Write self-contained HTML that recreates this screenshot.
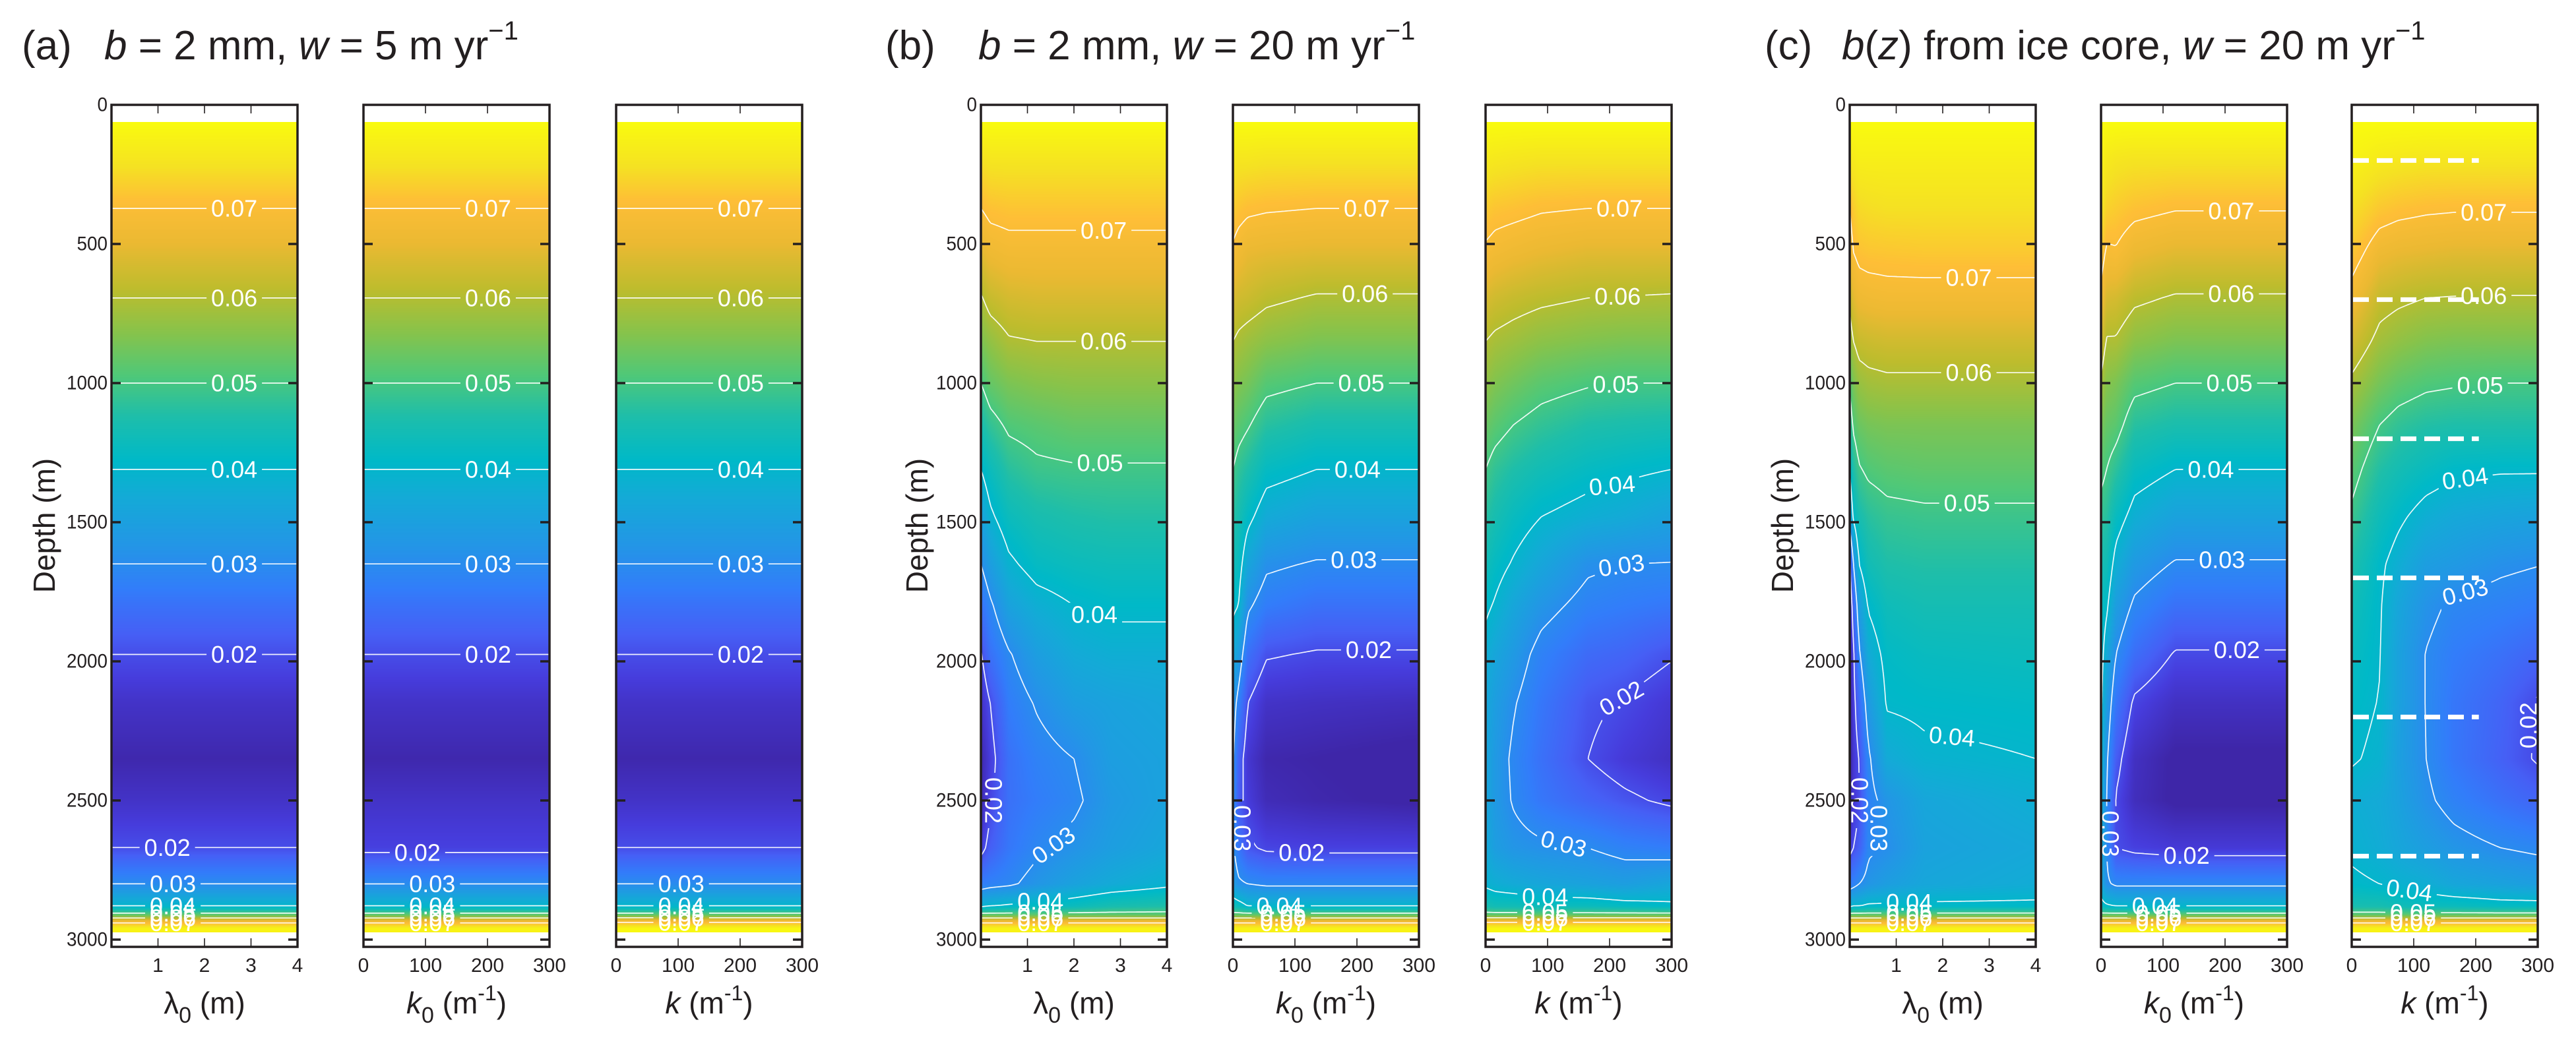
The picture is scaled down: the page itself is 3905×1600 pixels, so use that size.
<!DOCTYPE html>
<html><head><meta charset="utf-8">
<style>
html,body{margin:0;padding:0;background:#fff;}
body{width:3905px;height:1600px;position:relative;overflow:hidden;font-family:"Liberation Sans",Arial,sans-serif;}
canvas{position:absolute;}
#ov{position:absolute;left:0;top:0;}
</style></head>
<body>
<div id="heatmaps"></div>
<svg id="ov" width="3905" height="1600" xmlns="http://www.w3.org/2000/svg" font-family="Liberation Sans, Arial, sans-serif" fill="#231f20">
  <defs id="defs"></defs>
  <g>
    <text x="33" y="90" font-size="62">(a)</text>
    <text x="158" y="90" font-size="62"><tspan font-style="italic">b</tspan> = 2 mm, <tspan font-style="italic">w</tspan> = 5 m yr<tspan dy="-30" font-size="40">−1</tspan></text>
  </g>
  <g>
    <text x="1342" y="90" font-size="62">(b)</text>
    <text x="1483" y="90" font-size="62"><tspan font-style="italic">b</tspan> = 2 mm, <tspan font-style="italic">w</tspan> = 20 m yr<tspan dy="-30" font-size="40">−1</tspan></text>
  </g>
  <g>
    <text x="2675" y="90" font-size="62">(c)</text>
    <text x="2792" y="90" font-size="62"><tspan font-style="italic">b</tspan>(<tspan font-style="italic">z</tspan>) from ice core, <tspan font-style="italic">w</tspan> = 20 m yr<tspan dy="-30" font-size="40">−1</tspan></text>
  </g>
  <text transform="translate(67,797) rotate(-90)" text-anchor="middle" dominant-baseline="central" font-size="46">Depth (m)</text>
  <text transform="translate(1390,797) rotate(-90)" text-anchor="middle" dominant-baseline="central" font-size="46">Depth (m)</text>
  <text transform="translate(2702,797) rotate(-90)" text-anchor="middle" dominant-baseline="central" font-size="46">Depth (m)</text>
  <g id="dyn"></g>
</svg>
<script>
// ---------------- data ----------------
const ROWS = [62,200,372,530,694,850,1000,1150,1310,1480,1650,1800,1975,2150,2350,2500,2670,2800,2880,2910,2930,2960];
const Y_TICKS = [0,500,1000,1500,2000,2500,3000];
const LAMBDA_TICKS = [1,2,3,4];
const K_TICKS = [0,100,200,300];
const CMAP_V = [0.013,0.018,0.022,0.027,0.032,0.037,0.041,0.046,0.051,0.056,0.061,0.066,0.071,0.076,0.082];
const CMAP_R = [62,70,70,50,35,20,0,30,80,135,190,235,254,245,249];
const CMAP_G = [38,60,95,125,150,170,185,190,200,195,188,185,190,225,251];
const CMAP_B = [168,220,245,250,230,215,200,170,120,75,45,50,55,35,14];

const A1_PROFILE = [0.082,0.077,0.070,0.065,0.060,0.055,0.050,0.045,0.040,0.035,0.030,0.025,0.020,0.016,0.0135,0.016,0.020,0.030,0.040,0.052,0.065,0.080];
const A2_PROFILE = [0.082,0.077,0.070,0.065,0.060,0.055,0.050,0.045,0.040,0.035,0.030,0.025,0.020,0.016,0.0135,0.016,0.0185,0.030,0.040,0.052,0.065,0.080];
const A3_PROFILE = [0.082,0.077,0.070,0.065,0.060,0.055,0.050,0.045,0.040,0.035,0.030,0.025,0.020,0.016,0.0135,0.016,0.020,0.030,0.040,0.052,0.066,0.081];
const A_COLS = [0,1];

const B1_COLS = [0,0.05,0.15,0.3,0.5,0.7,1];
const B1_VALS = [
[.082,.082,.082,.082,.082,.082,.082],
[.076,.077,.077,.077,.077,.077,.077],
[.070,.0715,.072,.072,.072,.072,.072],
[.065,.067,.068,.068,.068,.068,.068],
[.0595,.062,.0635,.064,.064,.064,.064],
[.055,.057,.0595,.060,.060,.060,.060],
[.050,.053,.055,.056,.0565,.0565,.0565],
[.045,.048,.051,.052,.053,.053,.053],
[.040,.043,.047,.049,.0495,.0495,.0495],
[.035,.039,.043,.045,.046,.0465,.0465],
[.030,.034,.039,.042,.043,.0435,.0435],
[.025,.029,.035,.038,.040,.041,.041],
[.0195,.025,.0295,.034,.037,.038,.038],
[.016,.020,.027,.0305,.034,.035,.036],
[.0135,.018,.025,.028,.030,.034,.035],
[.014,.019,.025,.027,.029,.033,.035],
[.018,.022,.026,.029,.0315,.034,.036],
[.027,.028,.029,.032,.035,.037,.039],
[.039,.040,.041,.042,.043,.045,.046],
[.052,.052,.052,.052,.052,.052,.052],
[.065,.065,.065,.065,.065,.065,.065],
[.080,.080,.080,.080,.080,.080,.080]];

const B2_COLS = [0,0.03,0.08,0.18,0.45,1];
const B2_VALS = [
[.082,.082,.082,.082,.082,.082],
[.078,.077,.077,.0765,.0765,.0765],
[.073,.072,.071,.0705,.070,.070],
[.069,.0675,.066,.0655,.065,.065],
[.064,.063,.0625,.061,.0595,.0595],
[.060,.059,.058,.0565,.055,.055],
[.057,.0555,.0545,.0515,.050,.050],
[.0535,.052,.0505,.047,.045,.045],
[.050,.048,.046,.042,.040,.040],
[.047,.045,.0415,.037,.035,.035],
[.044,.0425,.036,.031,.0295,.0295],
[.041,.040,.031,.027,.025,.025],
[.037,.034,.025,.0205,.0195,.0195],
[.033,.028,.020,.016,.0155,.015],
[.031,.023,.017,.0135,.013,.012],
[.031,.022,.018,.0145,.0135,.0125],
[.031,.026,.021,.019,.0185,.0185],
[.034,.031,.030,.029,.029,.029],
[.044,.043,.040,.040,.040,.040],
[.052,.052,.052,.052,.052,.052],
[.065,.065,.065,.065,.065,.065],
[.080,.080,.080,.080,.080,.080]];

const B3_COLS = [0,0.05,0.15,0.3,0.55,0.75,1];
const B3_VALS = [
[.082,.082,.082,.082,.082,.082,.082],
[.078,.0775,.077,.0765,.0765,.0765,.0765],
[.073,.072,.0715,.0705,.070,.070,.070],
[.069,.068,.067,.066,.065,.065,.065],
[.064,.063,.062,.061,.060,.0598,.0595],
[.060,.059,.058,.0565,.0555,.055,.055],
[.057,.0555,.054,.052,.0505,.050,.050],
[.0535,.052,.050,.048,.046,.0455,.045],
[.050,.048,.046,.044,.042,.041,.040],
[.047,.045,.0425,.040,.038,.037,.035],
[.044,.042,.0395,.036,.031,.030,.0298],
[.041,.0395,.036,.032,.028,.027,.026],
[.038,.036,.033,.028,.024,.023,.0205],
[.0365,.034,.0305,.026,.021,.0195,.017],
[.036,.033,.029,.025,.020,.0175,.0155],
[.036,.033,.0295,.026,.023,.021,.019],
[.037,.034,.032,.031,.030,.028,.027],
[.039,.038,.037,.036,.035,.034,.036],
[.045,.044,.044,.043,.043,.042,.041],
[.052,.052,.052,.052,.052,.052,.052],
[.066,.066,.066,.066,.066,.066,.066],
[.081,.081,.081,.081,.081,.081,.081]];

const C1_COLS = [0,0.02,0.05,0.1,0.2,0.4,1];
const C1_VALS = [
[.082,.082,.082,.082,.082,.082,.082],
[.077,.078,.079,.079,.079,.079,.079],
[.070,.073,.075,.0755,.076,.076,.076],
[.067,.070,.0715,.072,.0722,.0725,.0725],
[.0615,.065,.067,.0675,.068,.068,.068],
[.057,.060,.062,.0625,.063,.063,.063],
[.051,.055,.0575,.0585,.059,.059,.059],
[.0465,.051,.0535,.0545,.055,.055,.055],
[.0405,.046,.0495,.051,.052,.0525,.0525],
[.034,.041,.045,.047,.0485,.049,.049],
[.0185,.030,.040,.044,.046,.0465,.0465],
[.015,.023,.034,.0405,.0435,.0445,.0445],
[.013,.019,.029,.037,.0415,.0425,.043],
[.012,.018,.024,.033,.0405,.041,.0415],
[.012,.017,.020,.029,.037,.039,.040],
[.013,.017,.0195,.028,.032,.036,.038],
[.018,.020,.022,.029,.0305,.035,.0365],
[.027,.028,.030,.032,.034,.036,.0375],
[.039,.040,.040,.041,.041,.041,.041],
[.052,.052,.052,.052,.052,.052,.052],
[.065,.065,.065,.065,.065,.065,.065],
[.080,.080,.080,.080,.080,.080,.080]];

const C2_COLS = [0,0.03,0.08,0.18,0.4,1];
const C2_VALS = [
[.082,.082,.082,.082,.082,.082],
[.080,.078,.077,.0765,.0765,.0765],
[.077,.074,.073,.0715,.0703,.0703],
[.073,.069,.0695,.0665,.065,.065],
[.068,.064,.0635,.061,.0595,.0595],
[.0635,.0595,.0595,.0565,.055,.055],
[.059,.056,.055,.0515,.050,.050],
[.055,.053,.052,.047,.0455,.0455],
[.0515,.050,.0475,.0425,.040,.040],
[.048,.047,.0425,.038,.035,.035],
[.045,.044,.038,.033,.0295,.0295],
[.043,.041,.034,.029,.025,.025],
[.042,.037,.030,.0245,.0195,.0195],
[.041,.034,.026,.019,.0155,.0155],
[.040,.031,.022,.0155,.0125,.0125],
[.039,.030,.0195,.015,.0125,.0125],
[.038,.030,.020,.0185,.0175,.0175],
[.037,.031,.029,.029,.029,.029],
[.042,.041,.040,.040,.040,.040],
[.052,.052,.052,.052,.052,.052],
[.065,.065,.065,.065,.065,.065],
[.080,.080,.080,.080,.080,.080]];

const C3_COLS = [0,0.15,0.25,0.4,0.55,0.8,1];
const C3_VALS = [
[.082,.082,.082,.082,.082,.082,.082],
[.080,.078,.0775,.077,.077,.077,.077],
[.076,.0725,.0715,.0708,.0705,.0705,.0705],
[.0725,.067,.066,.0655,.065,.065,.065],
[.068,.062,.061,.060,.0598,.0597,.0597],
[.0635,.0585,.057,.0555,.055,.055,.055],
[.059,.0545,.0525,.051,.0505,.050,.050],
[.055,.050,.048,.0465,.046,.046,.046],
[.052,.0465,.0445,.0425,.041,.0405,.0405],
[.049,.0435,.041,.038,.0365,.0355,.035],
[.046,.041,.038,.034,.033,.031,.0302],
[.044,.0405,.036,.0315,.029,.028,.027],
[.0425,.0402,.035,.0298,.027,.025,.023],
[.0415,.0398,.035,.0298,.026,.023,.0195],
[.0405,.039,.0345,.030,.026,.0225,.0195],
[.038,.037,.035,.031,.028,.025,.023],
[.039,.0375,.036,.034,.032,.030,.029],
[.041,.040,.039,.038,.036,.035,.034],
[.045,.045,.044,.043,.043,.042,.042],
[.052,.052,.052,.052,.052,.052,.052],
[.065,.065,.065,.065,.065,.065,.065],
[.080,.080,.080,.080,.080,.080,.080]];
const C3_DASH_DEPTHS = [200,700,1200,1700,2200,2700];
const C3_DASH_KMAX = 205;

const CONTOUR_LEVELS = [0.02,0.03,0.04,0.05,0.06,0.07];

// label specs: [text, xfrac, depth hint, angle, scan]
const A1_LABELS = [['0.07',.66,372,0,'v'],['0.06',.66,694,0,'v'],['0.05',.66,997,0,'v'],['0.04',.66,1310,0,'v'],['0.03',.66,1649,0,'v'],['0.02',.66,1974,0,'v'],['0.02',.30,2668,0,'v'],['0.03',.33,2800,0,'v'],['0.04',.33,2880,0,'v'],['0.05',.33,2905,0,'v'],['0.06',.33,2922,0,'v'],['0.07',.33,2938,0,'v']];
const A2_LABELS = [['0.07',.67,372,0,'v'],['0.06',.67,694,0,'v'],['0.05',.67,997,0,'v'],['0.04',.67,1310,0,'v'],['0.03',.67,1649,0,'v'],['0.02',.67,1974,0,'v'],['0.02',.29,2690,0,'v'],['0.03',.37,2800,0,'v'],['0.04',.37,2880,0,'v'],['0.05',.37,2905,0,'v'],['0.06',.37,2922,0,'v'],['0.07',.37,2938,0,'v']];
const A3_LABELS = [['0.07',.67,372,0,'v'],['0.06',.67,694,0,'v'],['0.05',.67,997,0,'v'],['0.04',.67,1310,0,'v'],['0.03',.67,1649,0,'v'],['0.02',.67,1974,0,'v'],['0.03',.35,2800,0,'v'],['0.04',.35,2880,0,'v'],['0.05',.35,2905,0,'v'],['0.06',.35,2922,0,'v'],['0.07',.35,2938,0,'v']];
const B1_LABELS = [['0.07',.66,447,0,'v'],['0.06',.66,841,0,'v'],['0.05',.64,1291,0,'v'],['0.04',.61,1860,0,'v'],['0.02',.086,2500,90,'h'],['0.03',.39,2640,-35,'v'],['0.04',.32,2885,0,'v'],['0.05',.32,2905,0,'v'],['0.06',.32,2922,0,'v'],['0.07',.32,2940,0,'v']];
const B2_LABELS = [['0.07',.72,374,0,'v'],['0.06',.71,680,0,'v'],['0.05',.69,1000,0,'v'],['0.04',.67,1302,0,'v'],['0.03',.65,1618,0,'v'],['0.02',.73,1940,0,'v'],['0.02',.37,2713,0,'v'],['0.03',.025,2600,90,'h'],['0.04',.25,2890,0,'v'],['0.05',.27,2905,0,'v'],['0.06',.27,2922,0,'v'],['0.07',.27,2940,0,'v']];
const B3_LABELS = [['0.07',.72,374,0,'v'],['0.06',.71,680,0,'v'],['0.05',.70,1000,0,'v'],['0.04',.68,1320,-5,'v'],['0.03',.73,1645,-8,'v'],['0.02',.73,2050,-30,'v'],['0.03',.42,2640,15,'v'],['0.04',.32,2815,0,'v'],['0.05',.32,2890,0,'v'],['0.06',.32,2915,0,'v'],['0.07',.32,2935,0,'v']];
const C1_LABELS = [['0.07',.64,611,0,'v'],['0.06',.64,966,0,'v'],['0.05',.63,1400,0,'v'],['0.04',.55,2360,5,'v'],['0.02',.05,2500,90,'h'],['0.03',.19,2600,90,'h'],['0.04',.32,2880,0,'v'],['0.05',.32,2905,0,'v'],['0.06',.32,2922,0,'v'],['0.07',.32,2940,0,'v']];
const C2_LABELS = [['0.07',.70,383,0,'v'],['0.06',.70,686,0,'v'],['0.05',.69,1000,0,'v'],['0.04',.59,1310,0,'v'],['0.03',.65,1618,0,'v'],['0.02',.73,1940,0,'v'],['0.02',.46,2713,0,'v'],['0.03',.04,2620,90,'h'],['0.04',.29,2885,0,'v'],['0.05',.31,2905,0,'v'],['0.06',.31,2922,0,'v'],['0.07',.31,2940,0,'v']];
const C3_LABELS = [['0.07',.71,379,0,'v'],['0.06',.71,686,0,'v'],['0.05',.69,1002,0,'v'],['0.04',.61,1400,-8,'v'],['0.03',.61,1780,-15,'v'],['0.02',.94,2230,-90,'h'],['0.04',.31,2790,8,'v'],['0.05',.33,2895,0,'v'],['0.06',.33,2915,0,'v'],['0.07',.33,2935,0,'v']];

// ---------------- layout ----------------
const W = 282, TOP = 159, BOT = 1436, DATA_TOP = 185, DATA_BOT = 1414, PXM = 0.422;
function yOf(d){ return TOP + d*PXM; }
function dOf(y){ return (y - TOP)/PXM; }
function rows2(p){ return p.map(v=>[v,v]); }

const PANELS = [
 {key:'a1', x:169,  cols:A_COLS, vals:rows2(A1_PROFILE), labels:A1_LABELS, axis:'lambda', yLabels:true},
 {key:'a2', x:551,  cols:A_COLS, vals:rows2(A2_PROFILE), labels:A2_LABELS, axis:'k0'},
 {key:'a3', x:934,  cols:A_COLS, vals:rows2(A3_PROFILE), labels:A3_LABELS, axis:'k'},
 {key:'b1', x:1487, cols:B1_COLS, vals:B1_VALS, labels:B1_LABELS, axis:'lambda', yLabels:true},
 {key:'b2', x:1869, cols:B2_COLS, vals:B2_VALS, labels:B2_LABELS, axis:'k0'},
 {key:'b3', x:2252, cols:B3_COLS, vals:B3_VALS, labels:B3_LABELS, axis:'k'},
 {key:'c1', x:2804, cols:C1_COLS, vals:C1_VALS, labels:C1_LABELS, axis:'lambda', yLabels:true},
 {key:'c2', x:3185, cols:C2_COLS, vals:C2_VALS, labels:C2_LABELS, axis:'k0'},
 {key:'c3', x:3565, cols:C3_COLS, vals:C3_VALS, labels:C3_LABELS, axis:'k', dashes:true}
];

function val(p, xf, d){
  const R = ROWS;
  if (d < R[0]) d = R[0];
  if (d > R[R.length-1]) d = R[R.length-1];
  let i = 0; while (i < R.length-2 && d > R[i+1]) i++;
  const ty = (d - R[i])/(R[i+1]-R[i]);
  const C = p.cols;
  if (xf < 0) xf = 0; if (xf > 1) xf = 1;
  let j = 0; while (j < C.length-2 && xf > C[j+1]) j++;
  const tx = (xf - C[j])/(C[j+1]-C[j]);
  const v = p.vals;
  const top = v[i][j]*(1-tx) + v[i][j+1]*tx;
  const bot = v[i+1][j]*(1-tx) + v[i+1][j+1]*tx;
  return top*(1-ty) + bot*ty;
}
function cmap(v){
  const V = CMAP_V;
  if (v <= V[0]) return [CMAP_R[0],CMAP_G[0],CMAP_B[0]];
  const n = V.length-1;
  if (v >= V[n]) return [CMAP_R[n],CMAP_G[n],CMAP_B[n]];
  let k = 0; while (v > V[k+1]) k++;
  const t = (v - V[k])/(V[k+1]-V[k]);
  return [CMAP_R[k]+(CMAP_R[k+1]-CMAP_R[k])*t, CMAP_G[k]+(CMAP_G[k+1]-CMAP_G[k])*t, CMAP_B[k]+(CMAP_B[k+1]-CMAP_B[k])*t];
}

const NS = 'http://www.w3.org/2000/svg';
const dyn = document.getElementById('dyn');
const defs = document.getElementById('defs');
const hm = document.getElementById('heatmaps');
function mk(tag, attrs, parent){
  const e = document.createElementNS(NS, tag);
  for (const k in attrs) e.setAttribute(k, attrs[k]);
  (parent||dyn).appendChild(e);
  return e;
}

const H = DATA_BOT - DATA_TOP;
PANELS.forEach(p => {
  // heatmap
  const cv = document.createElement('canvas');
  cv.width = W; cv.height = H;
  cv.style.left = p.x + 'px'; cv.style.top = DATA_TOP + 'px';
  
  
  hm.appendChild(cv);
  const ctx = cv.getContext('2d');
  const img = ctx.createImageData(W, H);
  for (let py = 0; py < H; py++){
    const d = dOf(DATA_TOP + py + 0.5);
    for (let px = 0; px < W; px++){
      const c = cmap(val(p, (px+0.5)/W, d));
      const o = (py*W + px)*4;
      img.data[o]=c[0]; img.data[o+1]=c[1]; img.data[o+2]=c[2]; img.data[o+3]=255;
    }
  }
  ctx.putImageData(img, 0, 0);

  const g = mk('g', {});
  
  

  // mask for label gaps
  const mask = mk('mask', {id:'mask-'+p.key, maskUnits:'userSpaceOnUse', x:0, y:0, width:3905, height:1600}, defs);
  mk('rect', {x:p.x, y:DATA_TOP, width:W, height:H, fill:'#fff'}, mask);

  // contours via marching squares
  const S = 3;
  const nx = Math.ceil(W/S), ny = Math.ceil(H/S);
  const grid = [];
  for (let j = 0; j <= ny; j++){
    const yy = Math.min(j*S, H);
    const row = [];
    for (let i = 0; i <= nx; i++){
      const xx = Math.min(i*S, W);
      row.push(val(p, xx/W, dOf(DATA_TOP + yy)));
    }
    grid.push(row);
  }
  const TABLE = {1:[[3,2]],2:[[2,1]],3:[[3,1]],4:[[0,1]],5:[[3,0],[2,1]],6:[[0,2]],7:[[3,0]],8:[[3,0]],9:[[0,2]],10:[[0,1],[3,2]],11:[[0,1]],12:[[3,1]],13:[[2,1]],14:[[3,2]]};
  const cg = mk('g', {mask:'url(#mask-'+p.key+')', fill:'none', stroke:'#fff', 'stroke-width':1.7, 'stroke-opacity':0.92}, g);
  
  
  CONTOUR_LEVELS.forEach(L => {
    let dstr = '';
    for (let j = 0; j < ny; j++){
      const y0 = Math.min(j*S,H), y1 = Math.min((j+1)*S,H);
      for (let i = 0; i < nx; i++){
        const x0 = Math.min(i*S,W), x1 = Math.min((i+1)*S,W);
        const tl = grid[j][i], tr = grid[j][i+1], br = grid[j+1][i+1], bl = grid[j+1][i];
        const code = (tl>L?8:0)|(tr>L?4:0)|(br>L?2:0)|(bl>L?1:0);
        const segs = TABLE[code];
        if (!segs) continue;
        const pt = e => {
          if (e===0){ const t=(L-tl)/(tr-tl); return [x0+(x1-x0)*t, y0]; }
          if (e===1){ const t=(L-tr)/(br-tr); return [x1, y0+(y1-y0)*t]; }
          if (e===2){ const t=(L-bl)/(br-bl); return [x0+(x1-x0)*t, y1]; }
          const t=(L-tl)/(bl-tl); return [x0, y0+(y1-y0)*t];
        };
        segs.forEach(s => {
          const a = pt(s[0]), b = pt(s[1]);
          dstr += 'M'+(p.x+a[0]).toFixed(1)+' '+(DATA_TOP+a[1]).toFixed(1)+'L'+(p.x+b[0]).toFixed(1)+' '+(DATA_TOP+b[1]).toFixed(1);
        });
      }
    }
    if (dstr){
      const path = mk('path', {d:dstr}, cg);
      
      
    }
  });

  // contour labels
  p.labels.forEach(lb => {
    const L = parseFloat(lb[0]);
    let lx, ly;
    if (lb[4] === 'v'){
      const xf = lb[1];
      let best = null, prev = val(p, xf, dOf(DATA_TOP));
      for (let py = 1; py <= H; py++){
        const v = val(p, xf, dOf(DATA_TOP+py));
        if ((prev-L)*(v-L) <= 0 && prev !== v){
          const yy = DATA_TOP + py - 1 + (L-prev)/(v-prev);
          if (best === null || Math.abs(dOf(yy)-lb[2]) < Math.abs(dOf(best)-lb[2])) best = yy;
        }
        prev = v;
      }
      lx = p.x + xf*W; ly = best === null ? yOf(lb[2]) : best;
    } else {
      const d = lb[2];
      let best = null, prev = val(p, 0, d);
      for (let px = 1; px <= W; px++){
        const v = val(p, px/W, d);
        if ((prev-L)*(v-L) <= 0 && prev !== v){
          const xx = px - 1 + (L-prev)/(v-prev);
          if (best === null || Math.abs(xx/W-lb[1]) < Math.abs(best/W-lb[1])) best = xx;
        }
        prev = v;
      }
      lx = p.x + (best === null ? lb[1]*W : best); ly = yOf(d);
    }
    lx = Math.max(p.x+14, Math.min(p.x+W-14, lx));
    const rot = 'rotate(' + lb[3] + ' ' + lx.toFixed(1) + ' ' + ly.toFixed(1) + ')';
    mk('rect', {x:(lx-42).toFixed(1), y:(ly-18).toFixed(1), width:84, height:36, fill:'#000', transform:rot}, mask);
    const t = mk('text', {x:lx.toFixed(1), y:ly.toFixed(1), 'text-anchor':'middle', 'dominant-baseline':'central', 'font-size':36, fill:'#fff', transform:rot}, g);
    t.textContent = lb[0];
    
    
  });

  // dashed sample lines (panel c3)
  if (p.dashes){
    C3_DASH_DEPTHS.forEach(d => {
      const ln = mk('line', {x1:p.x+2, x2:(p.x + C3_DASH_KMAX/300*W).toFixed(1), y1:yOf(d).toFixed(1), y2:yOf(d).toFixed(1), stroke:'#fff', 'stroke-width':7, 'stroke-dasharray':'24 12'}, g);
      
      
    });
  }

  // frame
  const fr = mk('rect', {x:p.x, y:TOP, width:W, height:BOT-TOP, fill:'none', stroke:'#231f20', 'stroke-width':3.5}, g);
  
  

  // y ticks
  Y_TICKS.forEach(d => {
    const yy = yOf(d);
    if (d > 0){
      const t1 = mk('line', {x1:p.x, x2:p.x+14, y1:yy, y2:yy, stroke:'#231f20', 'stroke-width':3.5}, g);
      
      
      const t2 = mk('line', {x1:p.x+W-14, x2:p.x+W, y1:yy, y2:yy, stroke:'#231f20', 'stroke-width':3.5}, g);
      
      
    }
    if (p.yLabels){
      const tl = mk('text', {x:p.x-6, y:yy, 'text-anchor':'end', 'dominant-baseline':'central', 'font-size':30, 'textLength': String(d).length*15.5, 'lengthAdjust':'spacingAndGlyphs'}, g);
      tl.textContent = d;
      
      
    }
  });

  // x ticks + labels
  const ticks = p.axis === 'lambda' ? LAMBDA_TICKS : K_TICKS;
  const xmax = p.axis === 'lambda' ? 4 : 300;
  ticks.forEach(v => {
    const xx = p.x + v/xmax*W;
    if (v > 0 && v < xmax){
      const a = mk('line', {x1:xx, x2:xx, y1:TOP, y2:TOP+13, stroke:'#231f20', 'stroke-width':1.6}, g);
      
      
      const b = mk('line', {x1:xx, x2:xx, y1:BOT-13, y2:BOT, stroke:'#231f20', 'stroke-width':1.6}, g);
      
      
    }
    const tl = mk('text', {x:xx, y:1474, 'text-anchor':'middle', 'font-size':30}, g);
    tl.textContent = v;
    
    
  });
  const ax = mk('text', {x:p.x+W/2, y:1537, 'text-anchor':'middle', 'font-size':46}, g);
  if (p.axis === 'lambda') ax.innerHTML = 'λ<tspan font-size="34" dy="14">0</tspan><tspan dy="-14"> (m)</tspan>';
  else if (p.axis === 'k0') ax.innerHTML = '<tspan font-style="italic">k</tspan><tspan font-size="34" dy="14">0</tspan><tspan dy="-14"> (m</tspan><tspan font-size="32" dy="-20">-1</tspan><tspan dy="20">)</tspan>';
  else ax.innerHTML = '<tspan font-style="italic">k</tspan> (m<tspan font-size="32" dy="-20">-1</tspan><tspan dy="20">)</tspan>';
  
  
});
</script>
</body></html>
